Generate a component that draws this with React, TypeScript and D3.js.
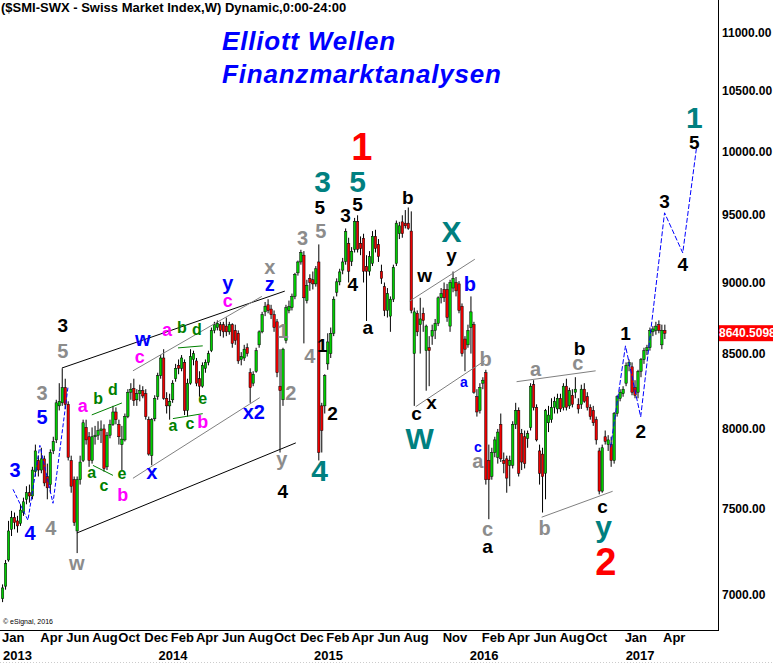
import React from 'react';
import * as d3 from 'd3';

// Weekly SMI candles, week 0 = week of 31 Dec 2012
const opens = [
6980,7050,7200,7380,7450,7430,7415,7480,7560,7600,7580,7730,7800,7740,7810,7700,7650,7860,7930,8150,8170,8270,8160,7800,7680,7370,
7680,7800,8010,7950,7800,7950,7960,7990,8000,7760,7960,8030,8110,8030,7900,7930,8080,8240,8265,8190,8230,8250,8230,8060,7830,
8066,8210,8350,8470,8200,8150,8190,8330,8420,8400,8440,8120,8300,8460,8450,8330,8280,8400,8440,8520,8660,8680,8700,8700,8690,8650,8700,8660,8640,8460,8470,8540,8370,8300,8380,8560,8650,
8790,8840,8810,8770,8720,8280,8190,8590,8800,8820,8900,9070,9150,9200,8870,9030,9020,8990,9150,
8150,8150,8430,8500,8640,8930,9005,9090,9155,9288,9155,9244,9454,9288,9326,9118,9082,9140,9340,9280,9082,8970,8800,8760,8880,9140,9360,9450,9440,9440,9380,8500,8780,8700,8780,8520,8540,8620,8660,8710,8890,8950,8950,8690,8960,9000,8990,8830,8600,8560,8680,8700,8210,8120,8300,8370,7800,
7700,7850,7820,8030,7800,7810,7770,7770,8030,8120,7970,7950,7940,8010,8290,8140,7860,7840,7720,8040,8060,8140,8130,8200,8140,8280,8150,8220,8240,8160,8160,8260,8210,8140,8120,8060,7860,7610,7950,7900,7900,7800,8100,8200,8230,8300,8420,8410,8270,8240,8380,8460,8520,8540,8650,8660,8700,8560,8660
];
const highs = [
7060,7200,7430,7490,7480,7460,7530,7570,7640,7650,7760,7900,7830,7880,7830,7780,7870,7950,8190,8300,8400,8330,8180,7830,7700,7700,
7830,8060,8060,7980,8010,8020,8050,8055,8030,7980,8060,8150,8140,8060,8020,8100,8260,8300,8330,8260,8290,8280,8260,8080,8070,
8220,8370,8490,8530,8240,8230,8320,8430,8460,8490,8460,8330,8530,8520,8470,8380,8440,8460,8520,8680,8720,8730,8720,8720,8750,8720,8710,8700,8660,8510,8560,8570,8400,8380,8540,8660,8790,
8860,8880,8840,8800,8740,8530,8540,8840,8870,8920,9070,9160,9240,9230,9020,9060,9080,9120,9280,
8170,8360,8640,8680,8900,9030,9100,9180,9400,9330,9260,9480,9500,9340,9360,9200,9230,9380,9390,9320,9130,9000,8960,8900,9130,9460,9450,9500,9540,9560,9530,8820,8800,8890,8820,8700,8620,8700,8740,8900,8960,9000,8990,9020,9080,9040,9010,8850,8620,8700,8900,8720,8260,8300,8340,8390,7900,
7880,7950,8000,8100,7850,7830,7830,8050,8170,8140,8000,7990,7990,8300,8320,8160,7900,7880,8130,8150,8200,8210,8230,8230,8300,8330,8270,8260,8340,8200,8290,8300,8240,8160,8150,8080,7880,7900,7990,7960,7950,8110,8220,8260,8280,8440,8460,8440,8320,8390,8470,8540,8560,8680,8690,8720,8730,8700,8700
];
const lows = [
6960,7030,7190,7340,7380,7360,7400,7460,7530,7540,7560,7700,7700,7720,7640,7560,7600,7840,7910,8120,8150,8130,7800,7600,7400,7240,
7650,7790,7900,7760,7780,7900,7930,7910,7730,7740,7940,8020,8030,7900,7740,7920,8070,8190,8150,8150,8180,8200,8060,7830,7770,
8050,8190,8330,8190,8100,8060,8170,8310,8360,8380,8090,8080,8290,8420,8280,8210,8270,8370,8420,8510,8640,8660,8620,8610,8620,8630,8540,8560,8430,8420,8450,8480,8170,8280,8370,8540,8640,
8760,8780,8740,8650,8340,7850,8150,8570,8780,8800,8880,9050,9130,8570,8850,8940,8950,8970,7800,
7850,8100,8390,8470,8620,8900,8980,9060,9130,9000,9120,9220,9220,9200,9000,8726,9050,9120,9220,9150,8990,8760,8750,8650,8860,9120,9320,9330,9400,9390,8780,8150,8620,8500,8650,8250,8280,8560,8600,8690,8850,8860,8720,8650,8930,8900,8780,8480,8380,8540,8500,8230,8080,8100,8260,7650,7440,
7680,7820,7780,7790,7720,7600,7640,7750,8000,7700,7740,7750,7880,7990,8120,7920,7650,7480,7560,7980,8040,8100,8100,8110,8120,8120,8130,8140,8200,8100,8130,8170,8120,8060,8020,7900,7590,7600,7900,7860,7760,7780,8080,8180,8210,8280,8380,8220,8200,8200,8340,8430,8490,8520,8620,8630,8640,8530,8600
];
const closes = [
7040,7180,7370,7450,7420,7400,7495,7545,7600,7580,7740,7860,7740,7810,7660,7630,7850,7920,8170,8180,8270,8160,7820,7640,7420,7680,
7790,8040,7930,7800,7950,7960,7990,8000,7750,7960,8030,8110,8060,7950,7935,8080,8240,8260,8185,8230,8250,8215,8080,7840,8060,
8200,8350,8470,8200,8150,8180,8300,8400,8400,8470,8120,8300,8480,8500,8300,8280,8420,8440,8500,8660,8700,8710,8660,8650,8650,8700,8570,8590,8450,8480,8530,8500,8270,8360,8520,8650,8770,
8830,8800,8770,8680,8370,8250,8530,8820,8830,8900,9060,9150,9220,8890,8980,9000,8990,9100,7850,
7990,8350,8580,8640,8880,9005,9077,9150,9378,9082,9229,9454,9244,9250,9082,9082,9190,9341,9250,9190,9030,8800,8920,8880,9110,9440,9420,9360,9420,9400,8800,8790,8650,8740,8730,8690,8520,8660,8710,8890,8920,8890,8750,9000,9030,8940,8800,8500,8530,8660,8790,8240,8110,8270,8320,7680,7680,
7850,7930,7980,7810,7780,7690,7800,8030,8120,7720,7790,7780,7970,8280,8140,7930,7720,7700,8120,8090,8140,8180,8200,8130,8280,8140,8250,8160,8260,8130,8260,8180,8140,8080,8040,7930,7610,7880,7920,7930,7800,8100,8210,8240,8260,8420,8440,8240,8220,8380,8460,8520,8540,8660,8670,8690,8660,8660,8640
];

const priceTicks = [7000, 7500, 8000, 8500, 9000, 9500, 10000, 10500, 11000];
const monthTicks = ['2013-01','2013-04','2013-06','2013-08','2013-10','2013-12','2014-02','2014-04','2014-06','2014-08','2014-10','2014-12','2015-02','2015-04','2015-06','2015-08','2015-11','2016-02','2016-04','2016-06','2016-08','2016-10','2017-01','2017-04'];
const monthNames = ['Jan','Feb','Mar','Apr','May','Jun','Jul','Aug','Sep','Oct','Nov','Dec'];
const yearTicks = [2013, 2014, 2015, 2016, 2017];
const lastPrice = 8640.5098;

// Wave labels: [text, week, price]
const redLabels = [['1', 120.4, 10037], ['2', 202.2, 7188]];
const tealLabels = [['3', 107.3, 9759], ['5', 119.0, 9759], ['4', 106.3, 7738], ['W', 139.8, 7939], ['X', 150.5, 9374], ['y', 201.5, 7394], ['1', 231.9, 10275]];
const blackLabels = [['3', 20.2, 8691], ['5', 106.3, 9557], ['3', 115.0, 9496], ['5', 119.0, 9580], ['4', 117.4, 8983], ['a', 122.4, 8677], ['1', 107.2, 8553], ['2', 110.6, 8099], ['4', 93.9, 7605], ['b', 135.8, 9634], ['w', 141.5, 9048], ['y', 150.5, 9195], ['c', 138.8, 8099], ['x', 143.8, 8169], ['a', 162.6, 7276], ['b', 193.4, 8532], ['c', 201.1, 7514], ['1', 208.8, 8635], ['2', 213.9, 7981], ['3', 221.9, 9607], ['4', 228.0, 9129], ['5', 231.9, 10070]];
const grayLabels = [['5', 20.2, 8519], ['3', 13.2, 8236], ['4', 16.2, 7388], ['w', 24.9, 7183], ['3', 100.6, 9329], ['5', 106.7, 9378], ['x', 89.6, 9114], ['1', 94.0, 8656], ['2', 96.6, 8236], ['4', 103.0, 8485], ['y', 93.6, 7809], ['b', 161.9, 8464], ['a', 159.3, 7794], ['c', 162.6, 7382], ['a', 178.7, 8396], ['c', 192.8, 8438], ['b', 181.7, 7388]];
const blueLabels = [['3', 4.2, 7738], ['4', 9.2, 7358], ['5', 13.2, 8078], ['w', 47.0, 8601], ['x', 50.0, 7726], ['y', 75.5, 8997], ['z', 89.6, 8990], ['x2', 84.2, 8110], ['b', 156.6, 8990]];
const blueSmallLabels = [['a', 154.6, 8309], ['c', 159.3, 7883]];
const magentaLabels = [['a', 26.9, 8151], ['b', 40.3, 7585], ['c', 46.0, 8477], ['a', 55.1, 8663], ['c', 75.5, 8867], ['b', 67.1, 8046]];
const greenLabels = [['b', 32.0, 8197], ['d', 37.0, 8261], ['a', 29.9, 7726], ['c', 34.0, 7647], ['e', 40.0, 7720], ['b', 60.1, 8677], ['d', 65.1, 8663], ['a', 57.1, 8021], ['c', 62.8, 8033], ['e', 67.1, 8196]];

// Trend lines: [week1, price1, week2, price2]
const blackLines = [[19.9, 8402, 94.6, 8938], [24.9, 7358, 98.3, 7911]];
const grayLines = [[43.7, 8383, 86.9, 8900], [43.7, 7689, 86.2, 8204], [136.5, 8867, 158.3, 9170], [138.5, 8145, 161.6, 8451], [172.3, 8310, 198.8, 8383], [180.7, 7452, 204.5, 7609]];
const greenLines = [[29.9, 8091, 40.0, 8169], [30.3, 7769, 37.0, 7707], [58.8, 8539, 67.1, 8553], [57.1, 8067, 67.1, 8099]];
const bluePathLeft = [[3.5, 7621], [8.5, 7434], [12.5, 7895], [16.9, 7536], [21.9, 8270]];
const bluePathRight = [[203.8, 7883], [208.8, 8553], [213.9, 8078], [221.9, 9519], [228.0, 9217], [232.6, 10029]];

const FONT = 'Liberation Sans, Arial, Helvetica, sans-serif';

export default function App() {
  const W = 773, H = 664;
  const plotRight = 718, plotBottom = 630;
  const x = d3.scaleTime().domain([new Date(2013, 0, 1), new Date(2017, 3, 1)]).range([3, 664]);
  const y = d3.scaleLog().domain([7000, 11000]).range([595, 33]);
  const week0 = new Date(2012, 11, 31).getTime();
  const X = (w: number) => x(new Date(week0 + w * 7 * 86400000));

  const lineGen = d3.line<number[]>().x(d => X(d[0])).y(d => y(d[1]));

  const renderLabels = (arr: any[], color: string, size: number, key: string) =>
    arr.map((l, i) => (
      <text key={key + i} x={X(l[1])} y={y(l[2])} fill={color} fontSize={size} fontWeight="bold"
        fontFamily={FONT} textAnchor="middle" dominantBaseline="central">{l[0]}</text>
    ));

  const renderSegs = (arr: number[][], color: string, key: string) =>
    arr.map((s, i) => (
      <line key={key + i} x1={X(s[0])} y1={y(s[1])} x2={X(s[2])} y2={y(s[3])} stroke={color} strokeWidth={1} />
    ));

  const bw = 2.4;

  return (
    <svg width={W} height={H} style={{ position: 'absolute', left: 0, top: 0, background: '#fff' }}>
      <rect x={0} y={0} width={W} height={H} fill="#fff" />
      {/* candles */}
      {closes.map((c, i) => {
        const o = opens[i];
        const cx = X(i);
        const up = c >= o;
        const top = y(Math.max(o, c));
        const bot = y(Math.min(o, c));
        return (
          <g key={'c' + i}>
            <line x1={cx} x2={cx} y1={y(highs[i])} y2={y(lows[i])} stroke="#000" strokeWidth={1} />
            <rect x={cx - bw / 2} y={top} width={bw} height={Math.max(1, bot - top)}
              fill={up ? '#00CC00' : '#EE0000'} stroke="#000" strokeWidth={0.5} />
          </g>
        );
      })}

      {/* trend lines */}
      {renderSegs(blackLines, '#000', 'bl')}
      {renderSegs(grayLines, '#808080', 'gl')}
      {renderSegs(greenLines, '#008000', 'grl')}
      <path d={lineGen(bluePathLeft) || ''} fill="none" stroke="#0000FF" strokeWidth={1} strokeDasharray="4,2" />
      <path d={lineGen(bluePathRight) || ''} fill="none" stroke="#0000FF" strokeWidth={1} strokeDasharray="5,2" />

      {/* labels */}
      {renderLabels(grayLabels, '#8C8C8C', 20, 'g')}
      {renderLabels(blackLabels, '#000', 19, 'k')}
      {renderLabels(blueLabels, '#0000FF', 20, 'b')}
      {renderLabels(blueSmallLabels, '#0000FF', 14, 'bs')}
      {renderLabels(magentaLabels, '#FF00FF', 18, 'm')}
      {renderLabels(greenLabels, '#008000', 16, 'gr')}
      {renderLabels(tealLabels, '#008080', 30, 't')}
      {renderLabels(redLabels, '#FF0000', 38, 'r')}

      {/* frame */}
      <line x1={plotRight + 0.5} x2={plotRight + 0.5} y1={0} y2={plotBottom + 1} stroke="#000" strokeWidth={1} />
      <line x1={0} x2={plotRight + 1} y1={plotBottom + 0.5} y2={plotBottom + 0.5} stroke="#000" strokeWidth={1} />
      <line x1={0} x2={W} y1={662.5} y2={662.5} stroke="#ccc" strokeWidth={1} strokeDasharray="1,2" />

      {/* right axis */}
      {priceTicks.map(p => (
        <text key={'p' + p} x={722} y={y(p)} fontSize={12} fontWeight="bold" fontFamily={FONT}
          dominantBaseline="central" fill="#000">{p.toFixed(2)}</text>
      ))}
      <rect x={plotRight + 1} y={y(lastPrice) - 8} width={W - plotRight} height={16} fill="#FF0000" />
      <text x={719} y={y(lastPrice)} fontSize={12} fontWeight="bold" fontFamily={FONT}
        dominantBaseline="central" fill="#fff">{lastPrice.toFixed(4)}</text>

      {/* bottom axis */}
      {monthTicks.map(m => {
        const [yy, mm] = m.split('-').map(Number);
        return (
          <text key={'m' + m} x={x(new Date(yy, mm - 1, 1)) - 1} y={642} fontSize={13} fontWeight="bold"
            fontFamily={FONT} fill="#000">{monthNames[mm - 1]}</text>
        );
      })}
      {yearTicks.map(yr => (
        <text key={'y' + yr} x={x(new Date(yr, 0, 1))} y={660} fontSize={13} fontWeight="bold"
          fontFamily={FONT} fill="#000">{yr}</text>
      ))}

      {/* titles */}
      <text x={1} y={12} fontSize={13} fontWeight="bold" fontFamily={FONT} fill="#000">($SMI-SWX - Swiss Market Index,W) Dynamic,0:00-24:00</text>
      <text x={222} y={50} fontSize={26} fontWeight="bold" fontStyle="italic" fontFamily={FONT}
        letterSpacing={0.8} fill="#0000FF">Elliott Wellen</text>
      <text x={222} y={83} fontSize={26} fontWeight="bold" fontStyle="italic" fontFamily={FONT}
        letterSpacing={0.8} fill="#0000FF">Finanzmarktanalysen</text>
      <text x={3} y={624} fontSize={7} fontFamily={FONT} fill="#000">© eSignal, 2016</text>
    </svg>
  );
}
